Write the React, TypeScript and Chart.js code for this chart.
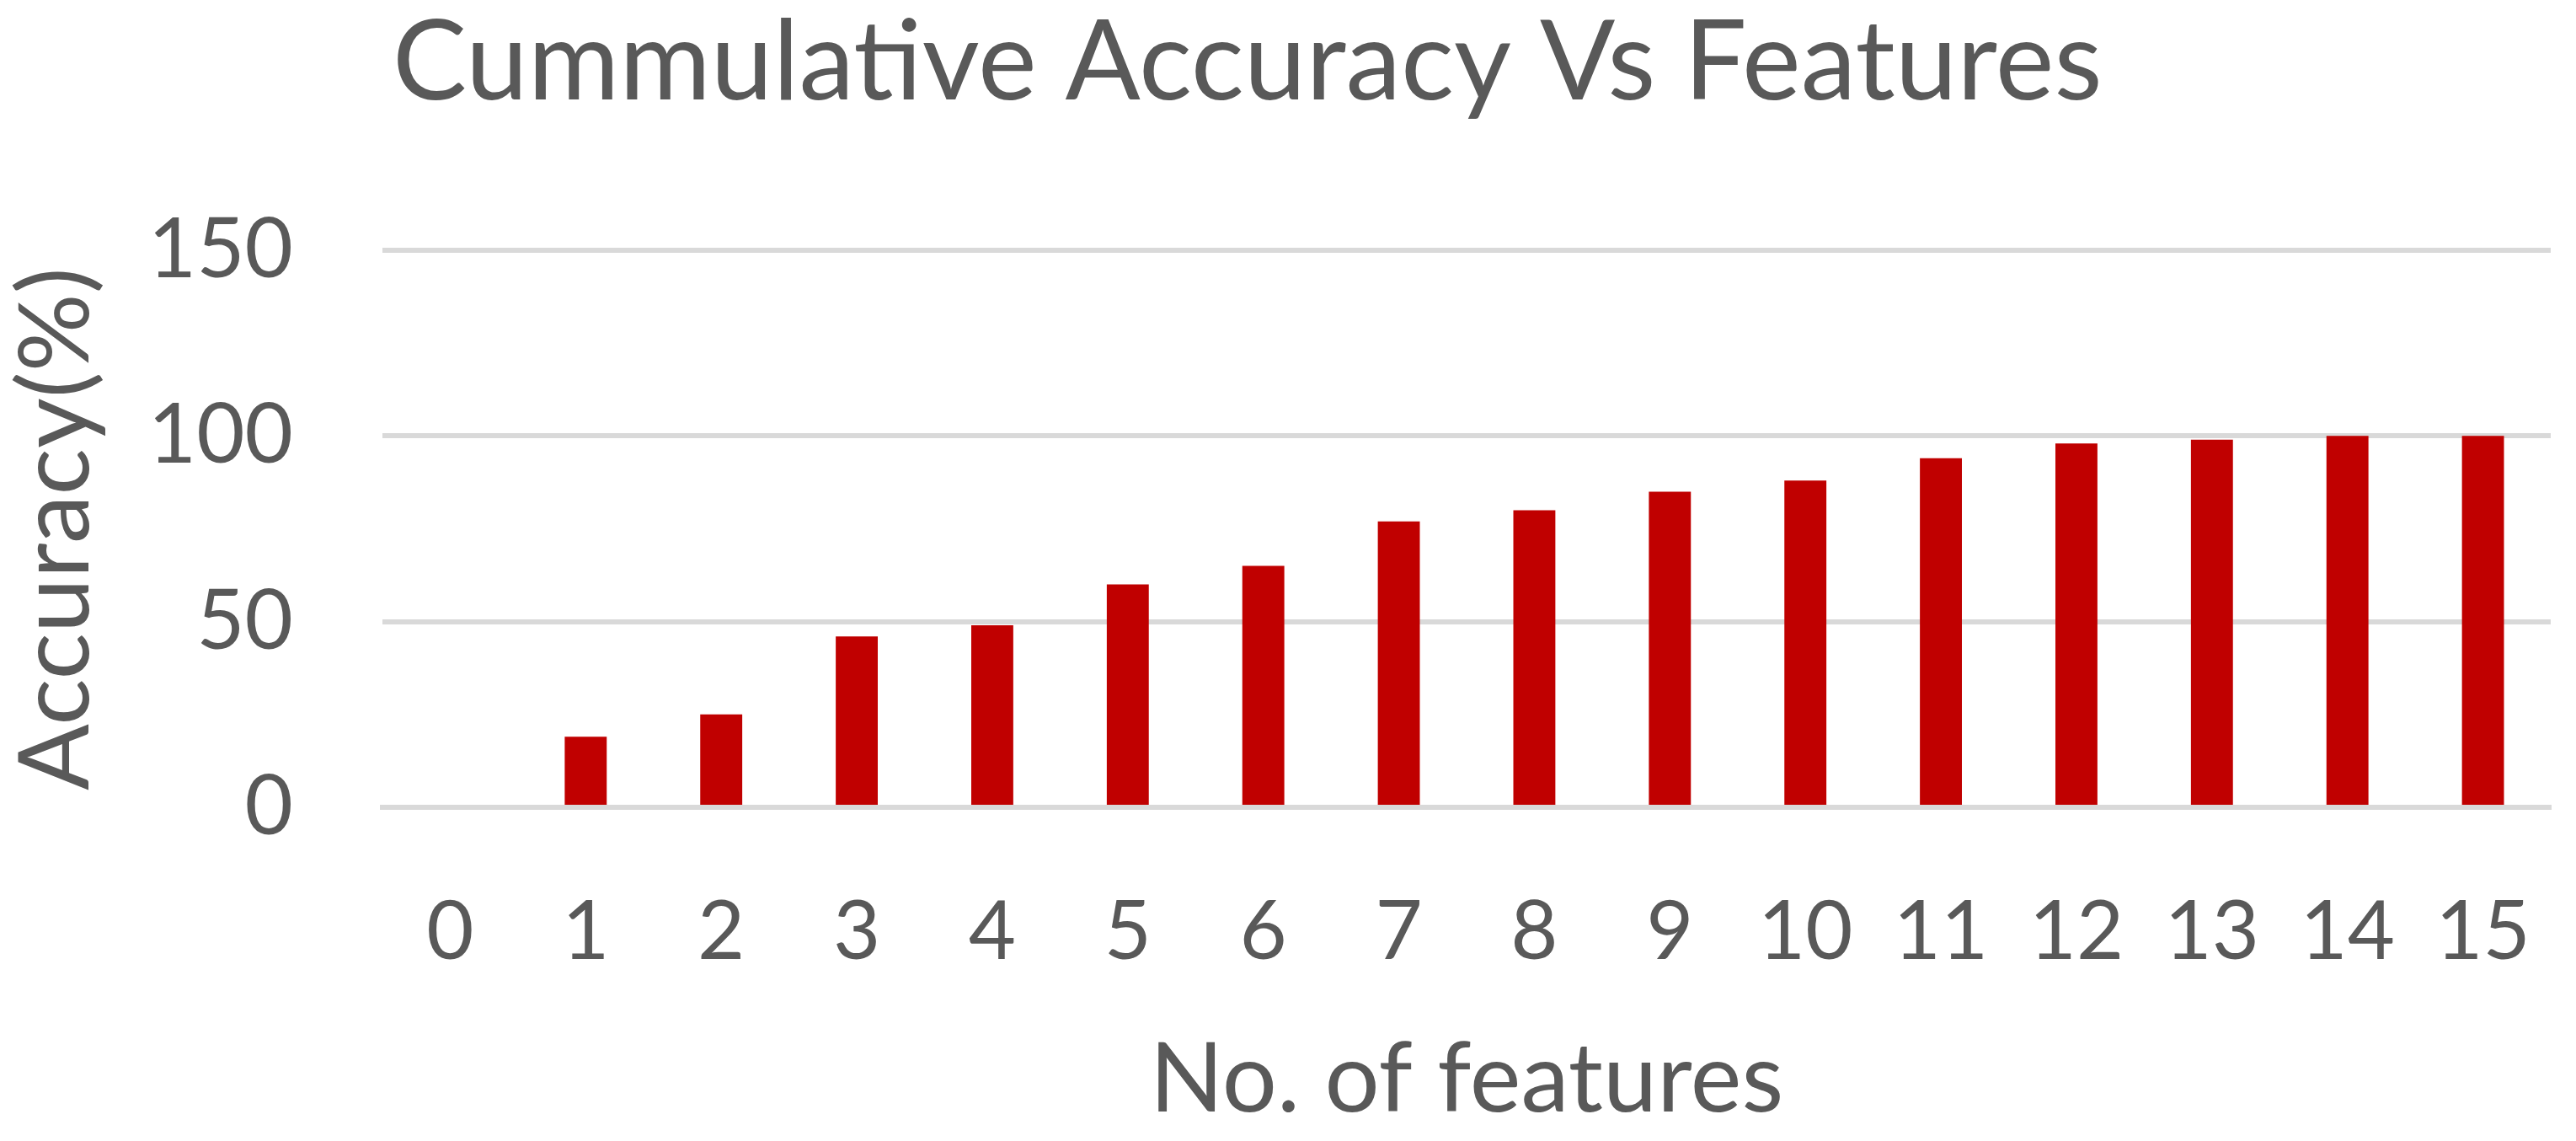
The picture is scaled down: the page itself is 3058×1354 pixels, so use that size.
import React, { useEffect, useRef } from "react";
import { Chart, registerables } from "chart.js";

Chart.register(...registerables);

const TITLE = "Cummulative Accuracy Vs Features";
const X_TITLE = "No. of features";
const Y_TITLE = "Accuracy(%)";

const categories = ["0", "1", "2", "3", "4", "5", "6", "7", "8", "9", "10", "11", "12", "13", "14", "15"];
const accuracy = [0, 19, 25, 46, 49, 60, 65, 77, 80, 85, 88, 94, 98, 99, 100, 100];
const yMin = 0;
const yMax = 150;
const yStep = 50;

const TEXT = "#595959";
const GRID = "#d9d9d9";
const BAR = "#c00000";
const FONT = "Lato, 'Open Sans', sans-serif";

const W = 3058;
const H = 1354;
const PLOT_LEFT = 454;
const PLOT_TOP = 297;
const PLOT_BOTTOM = 958;
const PLOT_RIGHT = 3028;

const titlePlugin = {
  id: "leftTitle",
  afterDraw(chart: any) {
    const { ctx, chartArea } = chart;
    ctx.save();
    ctx.font = `132px ${FONT}`;
    ctx.fillStyle = TEXT;
    ctx.textBaseline = "alphabetic";
    ctx.textAlign = "left";
    ctx.fillText(TITLE, chartArea.left + 12, 118);
    ctx.restore();
  },
};

export default function App() {
  const ref = useRef<HTMLCanvasElement | null>(null);

  useEffect(() => {
    if (!ref.current) return;
    const chart = new Chart(ref.current, {
      type: "bar",
      data: {
        labels: categories,
        datasets: [
          {
            label: "Accuracy",
            data: accuracy,
            backgroundColor: BAR,
            borderWidth: 0,
            barPercentage: 0.31,
            categoryPercentage: 1,
          },
        ],
      },
      plugins: [titlePlugin],
      options: {
        animation: false,
        responsive: false,
        maintainAspectRatio: false,
        layout: {
          padding: { top: PLOT_TOP, left: 0, right: W - PLOT_RIGHT, bottom: 0 },
        },
        plugins: {
          legend: { display: false },
          title: { display: false },
          tooltip: { enabled: false },
        },
        scales: {
          x: {
            z: 1,
            grid: { display: false, drawTicks: false },
            border: { display: true, color: GRID, width: 6 },
            ticks: {
              color: TEXT,
              font: { family: FONT, size: 97, lineHeight: 1 },
              padding: 100,
              maxRotation: 0,
              autoSkip: false,
            },
            title: {
              display: true,
              text: X_TITLE,
              color: TEXT,
              font: { family: FONT, size: 115, lineHeight: 1 },
              padding: { top: 0, bottom: 15 },
            },
            afterFit(scale: any) {
              scale.height = H - PLOT_BOTTOM;
              scale.paddingLeft = 0;
              scale.paddingRight = 0;
            },
          },
          y: {
            min: yMin,
            max: yMax,
            grid: { color: GRID, lineWidth: 6, drawTicks: false },
            border: { display: false },
            ticks: {
              stepSize: yStep,
              color: TEXT,
              font: { family: FONT, size: 99, lineHeight: 1 },
              padding: 106,
            },
            title: {
              display: true,
              text: Y_TITLE,
              color: TEXT,
              font: { family: FONT, size: 116, lineHeight: 1 },
              padding: { top: 10, bottom: 0 },
            },
            afterFit(scale: any) {
              scale.width = PLOT_LEFT;
              scale.paddingTop = 0;
              scale.paddingBottom = 0;
            },
          },
        },
      },
    });
    return () => chart.destroy();
  }, []);

  return (
    <div style={{ position: "fixed", left: 0, top: 0, width: W, height: H, background: "#fff" }}>
      <canvas ref={ref} width={W} height={H} style={{ width: W, height: H, display: "block" }} />
    </div>
  );
}
